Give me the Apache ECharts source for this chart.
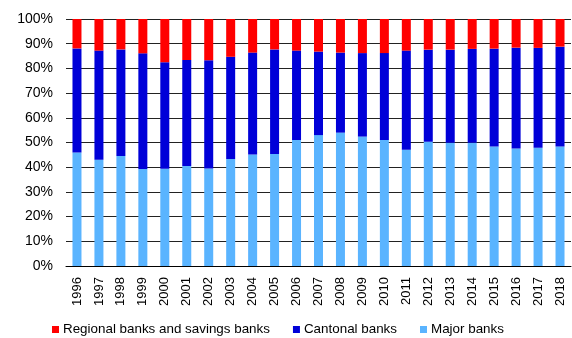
<!DOCTYPE html>
<html>
<head>
<meta charset="utf-8">
<script src="https://cdn.jsdelivr.net/npm/echarts@6/dist/echarts.min.js"></script>
<style>
  html, body { margin: 0; padding: 0; background: #fff; }
  #chart { width: 572px; height: 338px; }
</style>
</head>
<body>
<div id="chart"></div>
<script>
// Years on the category axis
const years = ['1996','1997','1998','1999','2000','2001','2002','2003','2004','2005','2006',
  '2007','2008','2009','2010','2011','2012','2013','2014','2015','2016','2017','2018'];

// Share of each bank group, in percent
const majorBanks = [46.0,43.0,44.5,39.3,39.4,40.5,39.5,43.3,45.1,45.3,51.0,53.0,54.0,52.4,51.0,47.1,50.3,49.9,49.9,48.4,47.6,47.9,48.4];
const cantonalBanks = [42.1,44.2,43.2,46.8,43.1,42.9,43.8,41.4,41.3,42.4,36.2,33.8,32.4,33.8,35.2,40.1,37.3,37.7,38.0,39.6,40.8,40.4,40.4];
const regionalBanks = [11.9,12.8,12.3,13.9,17.5,16.6,16.7,15.3,13.6,12.3,12.8,13.2,13.6,13.8,13.8,12.8,12.4,12.4,12.1,12.0,11.6,11.7,11.2];

const seriesNames = ['Regional banks and savings banks', 'Cantonal banks', 'Major banks'];
const colors = { regional: '#FF0000', cantonal: '#0000D8', major: '#5AB4FF' };

const font = 'Liberation Sans, Arial, sans-serif';
const chart = echarts.init(document.getElementById('chart'), null, { renderer: 'canvas' });

chart.setOption({
  animation: false,
  textStyle: { fontFamily: font },
  grid: { left: 66, right: 1, top: 19, bottom: 72, containLabel: false },
  legend: {
    data: seriesNames,
    left: 52,
    top: 323,
    padding: 0,
    itemWidth: 7,
    itemHeight: 7,
    itemGap: 23,
    itemStyle: { borderWidth: 0 },
    icon: 'rect',
    textStyle: { fontFamily: font, fontSize: 13.4, color: '#000', padding: [0, 0, 0, -1] }
  },
  xAxis: {
    type: 'category',
    data: years,
    axisLine: { lineStyle: { color: '#000', width: 1 } },
    axisTick: { show: false },
    axisLabel: { rotate: 90, margin: 11, fontSize: 13, color: '#000', fontFamily: font }
  },
  yAxis: {
    type: 'value',
    min: 0,
    max: 100,
    interval: 10,
    axisLine: { show: false },
    axisTick: { show: false },
    axisLabel: { formatter: '{value}%', margin: 13, fontSize: 14, color: '#000', fontFamily: font },
    splitLine: { lineStyle: { color: '#222', width: 1 } }
  },
  series: [
    { name: 'Major banks', type: 'bar', stack: 'share', data: majorBanks, barWidth: 9,
      itemStyle: { color: colors.major } },
    { name: 'Cantonal banks', type: 'bar', stack: 'share', data: cantonalBanks, barWidth: 9,
      itemStyle: { color: colors.cantonal } },
    { name: 'Regional banks and savings banks', type: 'bar', stack: 'share', data: regionalBanks, barWidth: 9,
      itemStyle: { color: colors.regional } }
  ]
});
</script>
</body>
</html>
